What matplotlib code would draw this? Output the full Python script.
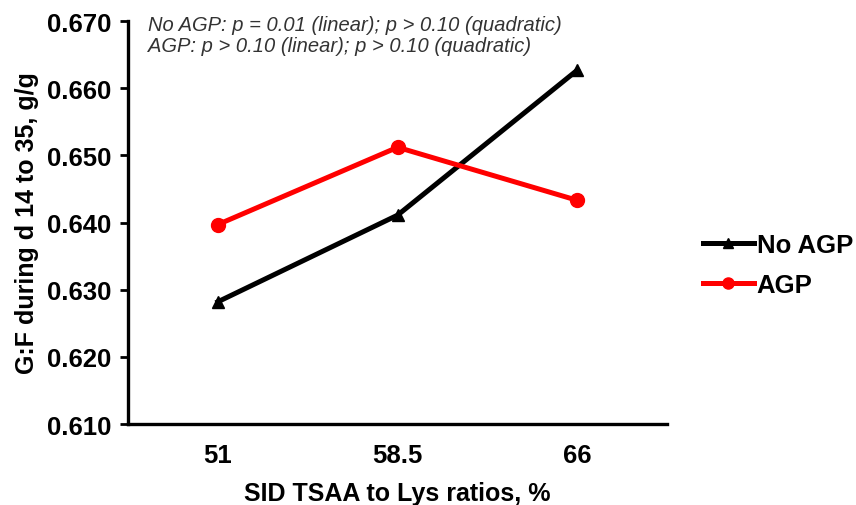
import matplotlib
matplotlib.use("Agg")
import matplotlib.pyplot as plt
from matplotlib.lines import Line2D

categories = ["51", "58.5", "66"]
no_agp = [0.6282, 0.6411, 0.6627]
agp = [0.6397, 0.6512, 0.6433]
yticks = [0.610, 0.620, 0.630, 0.640, 0.650, 0.660, 0.670]

plt.rcParams['font.family'] = ['Liberation Sans', 'DejaVu Sans']

fig = plt.figure(figsize=(8.56, 5.06), dpi=100)
ax = fig.add_axes([0.1495, 0.160, 0.630, 0.7965])

x = list(range(len(categories)))
ax.plot(x, no_agp, color='black', lw=3.6, marker='^', markersize=9, label='No AGP', zorder=3)
ax.plot(x, agp, color='#ff0000', lw=3.6, marker='o', markersize=10, label='AGP', zorder=3)

ax.set_xlim(-0.5, 2.5)
ax.set_ylim(0.610, 0.670)
ax.set_yticks(yticks)
ax.set_yticklabels([f"{v:.3f}" for v in yticks], fontsize=18.5, fontweight='bold')
ax.set_xticks(x)
ax.set_xticklabels(categories, fontsize=18.5, fontweight='bold')
ax.tick_params(axis='x', length=0, pad=14)
ax.tick_params(axis='y', direction='out', length=6, width=2, pad=6)
for s in ['top', 'right']:
    ax.spines[s].set_visible(False)
for s in ['left', 'bottom']:
    ax.spines[s].set_linewidth(2.4)

ax.set_xlabel("SID TSAA to Lys ratios, %", fontsize=18, fontweight='bold', labelpad=10)
ax.set_ylabel("G:F during d 14 to 35, g/g", fontsize=18, fontweight='bold', labelpad=6)

ax.text(0.037, 1.015, "No AGP: p = 0.01 (linear); p > 0.10 (quadratic)\nAGP: p > 0.10 (linear); p > 0.10 (quadratic)",
        transform=ax.transAxes, fontsize=14.5, fontstyle='italic', color='#333333',
        va='top', ha='left', linespacing=1.15)

handles = [Line2D([], [], color='black', lw=3.6, marker='^', markersize=7),
           Line2D([], [], color='#ff0000', lw=3.6, marker='o', markersize=8)]
fig.legend(handles, ['No AGP', 'AGP'], loc='center left', bbox_to_anchor=(0.821, 0.474), frameon=False,
           prop={'size': 18.5, 'weight': 'bold'}, handlelength=2.0, handletextpad=0.1,
           labelspacing=0.6, borderpad=0, borderaxespad=0)

fig.savefig("out.png", dpi=100)
